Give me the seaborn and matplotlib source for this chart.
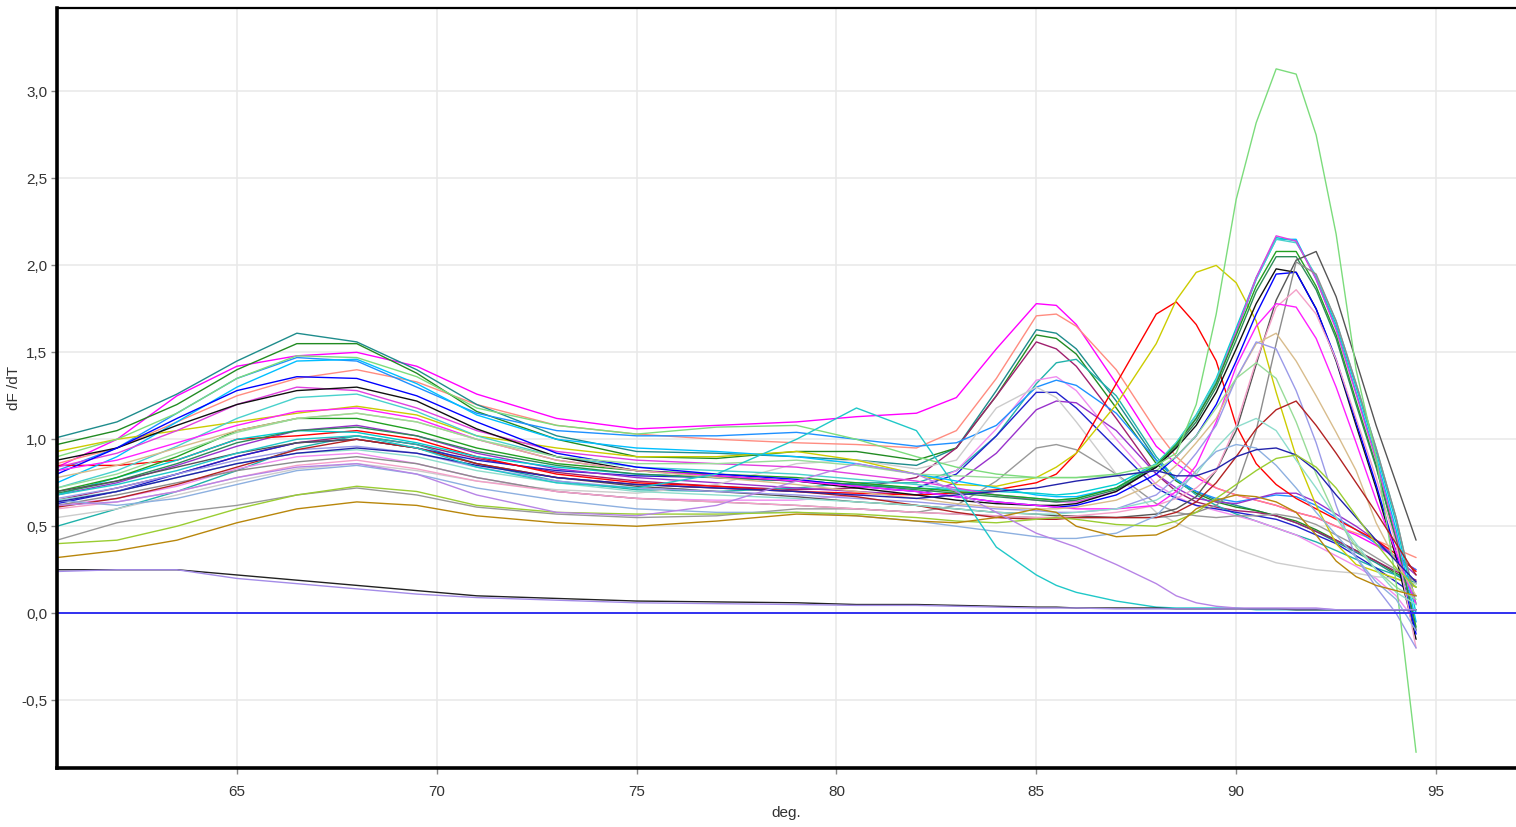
import pandas as pd
import matplotlib
matplotlib.use("Agg")
import matplotlib.pyplot as plt
from matplotlib.ticker import FuncFormatter, MultipleLocator
import seaborn as sns

# temperature grid (deg.) shared by every well
temps = [60.5, 62, 63.5, 65, 66.5, 68, 69.5, 71, 73, 75, 77, 79, 80.5, 82, 83, 84, 85, 85.5,
         86, 87, 88, 88.5, 89, 89.5, 90, 90.5, 91, 91.5, 92, 92.5, 93, 93.5, 94, 94.5]

# ---- wells with product peak near 85 deg ----
magenta85 = [0.84, 1.00, 1.25, 1.42, 1.48, 1.50, 1.42, 1.26, 1.12, 1.06, 1.08, 1.10, 1.13, 1.15, 1.24, 1.52, 1.78, 1.77,
             1.66, 1.32, 0.96, 0.86, 0.78, 0.72, 0.68, 0.65, 0.62, 0.58, 0.55, 0.50, 0.45, 0.39, 0.32, 0.25]
salmon85 = [0.86, 0.95, 1.10, 1.25, 1.35, 1.40, 1.33, 1.20, 1.08, 1.03, 1.00, 0.98, 0.97, 0.95, 1.05, 1.35, 1.71, 1.72,
            1.65, 1.40, 1.05, 0.90, 0.80, 0.72, 0.68, 0.65, 0.62, 0.58, 0.55, 0.50, 0.46, 0.42, 0.37, 0.32]
teal85 = [1.01, 1.10, 1.26, 1.45, 1.61, 1.56, 1.40, 1.20, 1.02, 0.93, 0.92, 0.90, 0.88, 0.85, 0.95, 1.28, 1.63, 1.61,
          1.52, 1.22, 0.88, 0.77, 0.70, 0.65, 0.62, 0.59, 0.56, 0.52, 0.47, 0.41, 0.35, 0.29, 0.22, 0.15]
green85 = [0.97, 1.05, 1.20, 1.40, 1.55, 1.55, 1.38, 1.16, 1.00, 0.90, 0.89, 0.93, 0.93, 0.88, 0.95, 1.25, 1.60, 1.58,
           1.49, 1.18, 0.86, 0.76, 0.69, 0.64, 0.61, 0.59, 0.56, 0.53, 0.48, 0.42, 0.36, 0.30, 0.23, 0.17]
plum85 = [0.65, 0.72, 0.80, 0.90, 0.98, 1.02, 0.97, 0.89, 0.81, 0.76, 0.73, 0.71, 0.72, 0.78, 0.95, 1.25, 1.56, 1.52,
          1.42, 1.12, 0.80, 0.70, 0.64, 0.61, 0.59, 0.58, 0.56, 0.52, 0.47, 0.42, 0.36, 0.30, 0.24, 0.19]
seagreen85 = [0.50, 0.60, 0.70, 0.82, 0.95, 1.02, 0.97, 0.86, 0.76, 0.71, 0.70, 0.72, 0.75, 0.75, 0.82, 1.02, 1.32, 1.44,
              1.46, 1.25, 0.90, 0.77, 0.68, 0.62, 0.57, 0.53, 0.49, 0.45, 0.41, 0.36, 0.31, 0.26, 0.22, 0.17]
violet85 = [0.62, 0.66, 0.73, 0.83, 0.90, 0.92, 0.86, 0.78, 0.70, 0.66, 0.65, 0.65, 0.68, 0.72, 0.82, 1.06, 1.34, 1.36,
            1.28, 1.00, 0.74, 0.67, 0.62, 0.59, 0.56, 0.53, 0.49, 0.45, 0.39, 0.33, 0.27, 0.20, 0.10, -0.05]
dodger85 = [0.82, 0.95, 1.15, 1.35, 1.47, 1.45, 1.30, 1.15, 1.05, 1.02, 1.02, 1.04, 1.00, 0.96, 0.98, 1.08, 1.30, 1.34,
            1.31, 1.15, 0.88, 0.77, 0.70, 0.66, 0.64, 0.66, 0.68, 0.67, 0.62, 0.55, 0.48, 0.40, 0.32, 0.25]
mblue85 = [0.63, 0.70, 0.80, 0.90, 0.98, 1.00, 0.95, 0.88, 0.82, 0.79, 0.78, 0.76, 0.74, 0.72, 0.80, 1.02, 1.27, 1.27,
           1.18, 0.95, 0.72, 0.66, 0.62, 0.60, 0.58, 0.56, 0.54, 0.50, 0.45, 0.40, 0.33, 0.26, 0.18, 0.10]
orchid85 = [0.68, 0.75, 0.85, 0.96, 1.05, 1.08, 1.02, 0.92, 0.83, 0.78, 0.75, 0.72, 0.70, 0.68, 0.75, 0.92, 1.17, 1.22,
            1.21, 1.05, 0.80, 0.72, 0.66, 0.64, 0.63, 0.66, 0.69, 0.69, 0.64, 0.57, 0.50, 0.42, 0.32, 0.22]
gray85 = [0.42, 0.52, 0.58, 0.62, 0.68, 0.72, 0.68, 0.61, 0.57, 0.55, 0.56, 0.60, 0.60, 0.58, 0.62, 0.76, 0.95, 0.97,
          0.94, 0.80, 0.63, 0.58, 0.56, 0.55, 0.56, 0.56, 0.57, 0.55, 0.51, 0.45, 0.39, 0.32, 0.25, 0.18]
silver84 = [0.55, 0.60, 0.68, 0.76, 0.83, 0.86, 0.82, 0.76, 0.71, 0.69, 0.74, 0.86, 0.88, 0.83, 0.88, 1.18, 1.30, 1.24,
            1.10, 0.80, 0.58, 0.52, 0.47, 0.42, 0.37, 0.33, 0.29, 0.27, 0.25, 0.24, 0.23, 0.21, 0.20, 0.17]

# ---- peaks at 88-89 deg ----
red88 = [0.85, 0.85, 0.88, 1.00, 1.02, 1.05, 1.00, 0.90, 0.80, 0.75, 0.73, 0.70, 0.69, 0.68, 0.69, 0.71, 0.75, 0.80,
         0.92, 1.32, 1.72, 1.79, 1.66, 1.45, 1.08, 0.86, 0.74, 0.66, 0.60, 0.54, 0.48, 0.42, 0.34, 0.24]
yellow89 = [0.93, 1.00, 1.05, 1.10, 1.15, 1.19, 1.14, 1.02, 0.95, 0.90, 0.90, 0.93, 0.88, 0.80, 0.74, 0.73, 0.78, 0.84,
            0.92, 1.20, 1.55, 1.80, 1.96, 2.00, 1.90, 1.68, 1.27, 0.90, 0.62, 0.40, 0.28, 0.24, 0.20, 0.15]

# ---- wells with product peak near 91 deg ----
skyblue91 = [0.75, 0.90, 1.10, 1.30, 1.45, 1.46, 1.32, 1.14, 1.00, 0.95, 0.93, 0.90, 0.86, 0.80, 0.76, 0.72, 0.68, 0.67,
             0.67, 0.72, 0.85, 0.97, 1.12, 1.33, 1.62, 1.92, 2.15, 2.15, 1.92, 1.64, 1.27, 0.90, 0.48, -0.05]
cyan91 = [0.68, 0.78, 0.88, 1.00, 1.05, 1.04, 0.98, 0.90, 0.84, 0.80, 0.78, 0.76, 0.74, 0.72, 0.71, 0.70, 0.69, 0.68,
          0.69, 0.74, 0.86, 0.98, 1.14, 1.35, 1.64, 1.93, 2.16, 2.14, 1.93, 1.66, 1.30, 0.93, 0.52, 0.00]
turq91 = [0.72, 0.82, 0.96, 1.12, 1.24, 1.26, 1.16, 1.02, 0.90, 0.84, 0.82, 0.80, 0.77, 0.74, 0.71, 0.68, 0.66, 0.65,
          0.66, 0.72, 0.86, 0.98, 1.14, 1.34, 1.62, 1.92, 2.15, 2.13, 1.94, 1.68, 1.32, 0.95, 0.55, 0.05]
fuchsia91 = [0.84, 0.92, 1.05, 1.20, 1.30, 1.28, 1.18, 1.05, 0.93, 0.88, 0.86, 0.84, 0.80, 0.76, 0.72, 0.68, 0.65, 0.64,
             0.64, 0.70, 0.84, 0.96, 1.12, 1.32, 1.62, 1.93, 2.17, 2.14, 1.92, 1.63, 1.26, 0.88, 0.45, -0.10]
green91 = [0.70, 0.78, 0.90, 1.05, 1.12, 1.12, 1.05, 0.95, 0.86, 0.82, 0.80, 0.78, 0.75, 0.72, 0.70, 0.68, 0.66, 0.65,
           0.66, 0.72, 0.85, 0.97, 1.12, 1.32, 1.60, 1.88, 2.08, 2.08, 1.88, 1.60, 1.22, 0.85, 0.42, -0.08]
sea91 = [0.69, 0.76, 0.86, 0.98, 1.05, 1.07, 1.02, 0.93, 0.85, 0.80, 0.78, 0.76, 0.74, 0.71, 0.69, 0.67, 0.65, 0.64,
         0.65, 0.71, 0.84, 0.96, 1.10, 1.30, 1.57, 1.85, 2.05, 2.05, 1.86, 1.58, 1.20, 0.84, 0.42, -0.10]
black91 = [0.88, 0.95, 1.08, 1.20, 1.28, 1.30, 1.22, 1.06, 0.90, 0.82, 0.79, 0.76, 0.72, 0.68, 0.65, 0.63, 0.62, 0.62,
           0.63, 0.70, 0.84, 0.95, 1.08, 1.27, 1.52, 1.78, 1.98, 1.96, 1.75, 1.45, 1.08, 0.72, 0.32, -0.15]
blue91 = [0.80, 0.95, 1.12, 1.28, 1.36, 1.35, 1.25, 1.10, 0.92, 0.84, 0.80, 0.77, 0.73, 0.70, 0.67, 0.64, 0.62, 0.61,
          0.62, 0.68, 0.80, 0.90, 1.02, 1.20, 1.45, 1.72, 1.95, 1.96, 1.75, 1.46, 1.10, 0.74, 0.35, -0.12]
dimgray92 = [0.70, 0.76, 0.84, 0.92, 0.98, 1.00, 0.95, 0.86, 0.78, 0.73, 0.70, 0.67, 0.64, 0.62, 0.60, 0.58, 0.57, 0.56,
             0.56, 0.55, 0.57, 0.60, 0.67, 0.82, 1.05, 1.43, 1.80, 2.03, 2.08, 1.82, 1.45, 1.08, 0.75, 0.42]
gray91 = [0.62, 0.68, 0.75, 0.82, 0.87, 0.90, 0.86, 0.78, 0.70, 0.66, 0.64, 0.62, 0.60, 0.58, 0.57, 0.56, 0.55, 0.55,
          0.55, 0.55, 0.55, 0.56, 0.58, 0.62, 0.72, 1.05, 1.55, 2.02, 1.95, 1.68, 1.32, 0.95, 0.55, 0.05]
pink91 = [0.60, 0.64, 0.70, 0.78, 0.85, 0.88, 0.83, 0.76, 0.70, 0.66, 0.64, 0.62, 0.60, 0.58, 0.57, 0.56, 0.55, 0.55,
          0.56, 0.58, 0.62, 0.66, 0.72, 0.82, 1.08, 1.45, 1.76, 1.86, 1.72, 1.46, 1.12, 0.78, 0.40, -0.20]
magenta91 = [0.82, 0.88, 0.98, 1.08, 1.16, 1.18, 1.12, 1.00, 0.88, 0.82, 0.79, 0.76, 0.73, 0.70, 0.67, 0.64, 0.62, 0.61,
             0.60, 0.60, 0.62, 0.70, 0.85, 1.10, 1.42, 1.65, 1.78, 1.76, 1.58, 1.30, 0.98, 0.65, 0.35, 0.05]
tan91 = [0.78, 0.85, 0.95, 1.05, 1.12, 1.15, 1.10, 1.00, 0.88, 0.82, 0.78, 0.74, 0.70, 0.66, 0.63, 0.61, 0.60, 0.60,
         0.61, 0.65, 0.75, 0.85, 0.98, 1.12, 1.35, 1.55, 1.61, 1.45, 1.25, 1.04, 0.82, 0.52, 0.30, 0.10]
lavender91 = [0.66, 0.72, 0.80, 0.88, 0.94, 0.96, 0.92, 0.84, 0.76, 0.72, 0.70, 0.68, 0.66, 0.64, 0.62, 0.60, 0.59, 0.58,
              0.58, 0.60, 0.68, 0.78, 0.92, 1.08, 1.35, 1.56, 1.52, 1.28, 0.98, 0.62, 0.32, 0.15, 0.00, -0.20]
palegreen91 = [0.72, 0.80, 0.92, 1.04, 1.12, 1.15, 1.10, 1.00, 0.90, 0.86, 0.86, 0.88, 0.85, 0.80, 0.79, 0.78, 0.78, 0.78,
               0.78, 0.79, 0.82, 0.90, 1.02, 1.18, 1.35, 1.44, 1.35, 1.10, 0.80, 0.55, 0.38, 0.25, 0.15, 0.08]
biggreen91 = [0.90, 1.00, 1.15, 1.35, 1.48, 1.47, 1.36, 1.18, 1.08, 1.03, 1.07, 1.08, 1.00, 0.90, 0.84, 0.80, 0.78, 0.78,
              0.78, 0.80, 0.85, 0.92, 1.20, 1.72, 2.38, 2.82, 3.13, 3.10, 2.75, 2.18, 1.40, 0.90, 0.18, -0.80]
firebrick91 = [0.61, 0.66, 0.74, 0.84, 0.94, 1.00, 0.95, 0.86, 0.78, 0.74, 0.72, 0.70, 0.67, 0.62, 0.58, 0.55, 0.54, 0.54,
               0.55, 0.55, 0.55, 0.58, 0.64, 0.75, 0.90, 1.06, 1.17, 1.22, 1.08, 0.92, 0.75, 0.58, 0.40, 0.22]
aqua91 = [0.65, 0.70, 0.78, 0.86, 0.92, 0.94, 0.90, 0.82, 0.75, 0.70, 0.68, 0.66, 0.64, 0.62, 0.60, 0.58, 0.57, 0.57,
          0.58, 0.60, 0.65, 0.72, 0.80, 0.95, 1.07, 1.12, 1.05, 0.88, 0.72, 0.55, 0.40, 0.25, 0.12, 0.05]
steel90 = [0.65, 0.62, 0.66, 0.74, 0.82, 0.85, 0.80, 0.72, 0.65, 0.60, 0.58, 0.58, 0.56, 0.53, 0.50, 0.47, 0.44, 0.43,
           0.43, 0.46, 0.56, 0.68, 0.82, 0.93, 0.97, 0.95, 0.85, 0.72, 0.58, 0.45, 0.32, 0.18, 0.08, -0.10]
navy91 = [0.64, 0.70, 0.78, 0.86, 0.92, 0.95, 0.92, 0.85, 0.78, 0.74, 0.72, 0.70, 0.68, 0.66, 0.68, 0.70, 0.72, 0.74,
          0.76, 0.79, 0.82, 0.79, 0.79, 0.83, 0.90, 0.94, 0.95, 0.91, 0.82, 0.68, 0.55, 0.42, 0.30, 0.18]
olive91 = [0.40, 0.42, 0.50, 0.60, 0.68, 0.73, 0.70, 0.62, 0.58, 0.57, 0.57, 0.58, 0.57, 0.55, 0.53, 0.52, 0.54, 0.55,
           0.54, 0.51, 0.50, 0.53, 0.58, 0.66, 0.74, 0.82, 0.89, 0.91, 0.84, 0.72, 0.56, 0.40, 0.26, 0.15]
goldenrod = [0.32, 0.36, 0.42, 0.52, 0.60, 0.64, 0.62, 0.56, 0.52, 0.50, 0.53, 0.57, 0.56, 0.53, 0.52, 0.55, 0.60, 0.58,
             0.50, 0.44, 0.45, 0.50, 0.60, 0.65, 0.68, 0.67, 0.64, 0.58, 0.45, 0.30, 0.21, 0.16, 0.13, 0.10]

# ---- wells that fall to baseline ----
turq_drop = [0.68, 0.74, 0.82, 0.92, 1.00, 1.02, 0.95, 0.84, 0.75, 0.72, 0.80, 1.00, 1.18, 1.05, 0.72, 0.38, 0.22, 0.16,
             0.12, 0.07, 0.035, 0.03, 0.03, 0.03, 0.03, 0.02, 0.02, 0.02, 0.02, 0.02, 0.02, 0.02, 0.02, 0.02]
purple_drop = [0.62, 0.64, 0.70, 0.78, 0.84, 0.86, 0.80, 0.68, 0.58, 0.56, 0.62, 0.76, 0.86, 0.80, 0.70, 0.58, 0.46, 0.42,
               0.38, 0.28, 0.17, 0.10, 0.06, 0.04, 0.03, 0.03, 0.03, 0.03, 0.03, 0.02, 0.02, 0.02, 0.02, 0.02]
black_ntc = [0.25, 0.25, 0.25, 0.22, 0.19, 0.16, 0.13, 0.10, 0.085, 0.07, 0.065, 0.06, 0.05, 0.05, 0.045, 0.04, 0.035, 0.035,
             0.03, 0.03, 0.03, 0.025, 0.025, 0.025, 0.025, 0.025, 0.025, 0.02, 0.02, 0.02, 0.02, 0.02, 0.02, 0.02]
purple_ntc = [0.24, 0.25, 0.25, 0.20, 0.17, 0.14, 0.11, 0.09, 0.075, 0.06, 0.055, 0.05, 0.045, 0.045, 0.04, 0.035, 0.03, 0.03,
              0.03, 0.025, 0.025, 0.025, 0.025, 0.025, 0.025, 0.025, 0.025, 0.025, 0.025, 0.02, 0.02, 0.02, 0.02, 0.02]

wells = {
    "magenta85": (magenta85, "#FF00FF"), "salmon85": (salmon85, "#FF8C80"), "teal85": (teal85, "#1E8C8C"),
    "green85": (green85, "#228B22"), "plum85": (plum85, "#A0206E"), "seagreen85": (seagreen85, "#20B2AA"),
    "violet85": (violet85, "#F08CF0"), "dodger85": (dodger85, "#1E90FF"), "mblue85": (mblue85, "#2020CD"),
    "orchid85": (orchid85, "#9932CC"), "gray85": (gray85, "#999999"), "silver84": (silver84, "#CCCCCC"),
    "red88": (red88, "#FF0000"), "yellow89": (yellow89, "#CCCC00"),
    "skyblue91": (skyblue91, "#00BFFF"), "cyan91": (cyan91, "#00CED1"), "turq91": (turq91, "#48D1CC"),
    "fuchsia91": (fuchsia91, "#E040E0"), "green91": (green91, "#22A022"), "sea91": (sea91, "#2E8B57"),
    "black91": (black91, "#111111"), "blue91": (blue91, "#0000FF"), "dimgray92": (dimgray92, "#555555"),
    "gray91": (gray91, "#8C8C8C"), "pink91": (pink91, "#F4A0C8"), "magenta91": (magenta91, "#FF20FF"),
    "tan91": (tan91, "#D8BC8C"), "lavender91": (lavender91, "#9A9AE8"), "palegreen91": (palegreen91, "#98DC98"),
    "biggreen91": (biggreen91, "#7CDC7C"), "firebrick91": (firebrick91, "#B22222"), "aqua91": (aqua91, "#8EDDCC"),
    "steel90": (steel90, "#8DB0E0"), "navy91": (navy91, "#2222AA"), "olive91": (olive91, "#9ACD32"),
    "goldenrod": (goldenrod, "#B8860B"), "turq_drop": (turq_drop, "#20C8C8"), "purple_drop": (purple_drop, "#B784E6"),
    "black_ntc": (black_ntc, "#222222"), "purple_ntc": (purple_ntc, "#A48CE8"),
}

rows = []
for name, (vals, _) in wells.items():
    for t, v in zip(temps, vals):
        rows.append({"well": name, "temp": t, "dfdt": v})
df = pd.DataFrame(rows)
palette = {name: col for name, (_, col) in wells.items()}

sns.set_style("white")
plt.rcParams["font.family"] = ["Liberation Sans", "DejaVu Sans"]

fig = plt.figure(figsize=(15.16, 8.27), dpi=100)
ax = fig.add_axes([57 / 1516, 59 / 827, 1 - 57 / 1516, 760 / 827])

ax.grid(True, color="#E8E8E8", linewidth=1.1)
ax.set_axisbelow(True)

sns.lineplot(data=df, x="temp", y="dfdt", hue="well", palette=palette, estimator=None,
             linewidth=1.0, legend=False, ax=ax)
ax.axhline(0, color="#3030F0", linewidth=1.4)

ax.set_xlim(60.5, 97)
ax.set_ylim(-0.89, 3.48)
ax.xaxis.set_major_locator(MultipleLocator(5))
ax.yaxis.set_major_locator(MultipleLocator(0.5))
ax.yaxis.set_major_formatter(FuncFormatter(lambda v, p: f"{v:.1f}".replace(".", ",")))
ax.tick_params(axis="both", which="major", length=4, width=1, color="#888888",
               labelsize=11, labelcolor="#333333", direction="out", bottom=True, left=True)
ax.tick_params(axis="x", pad=8)
ax.tick_params(axis="y", pad=3)

for side in ["left", "bottom"]:
    ax.spines[side].set_linewidth(2.6)
    ax.spines[side].set_color("black")
ax.spines["top"].set_linewidth(1.6)
ax.spines["top"].set_color("black")
ax.spines["right"].set_visible(False)

ax.set_xlabel("deg.", fontsize=11, color="#333333", labelpad=5)
ax.set_ylabel("dF /dT", fontsize=11, color="#333333")
ax.yaxis.set_label_coords(-0.0245, 0.5)

fig.savefig("out.png", dpi=100)
